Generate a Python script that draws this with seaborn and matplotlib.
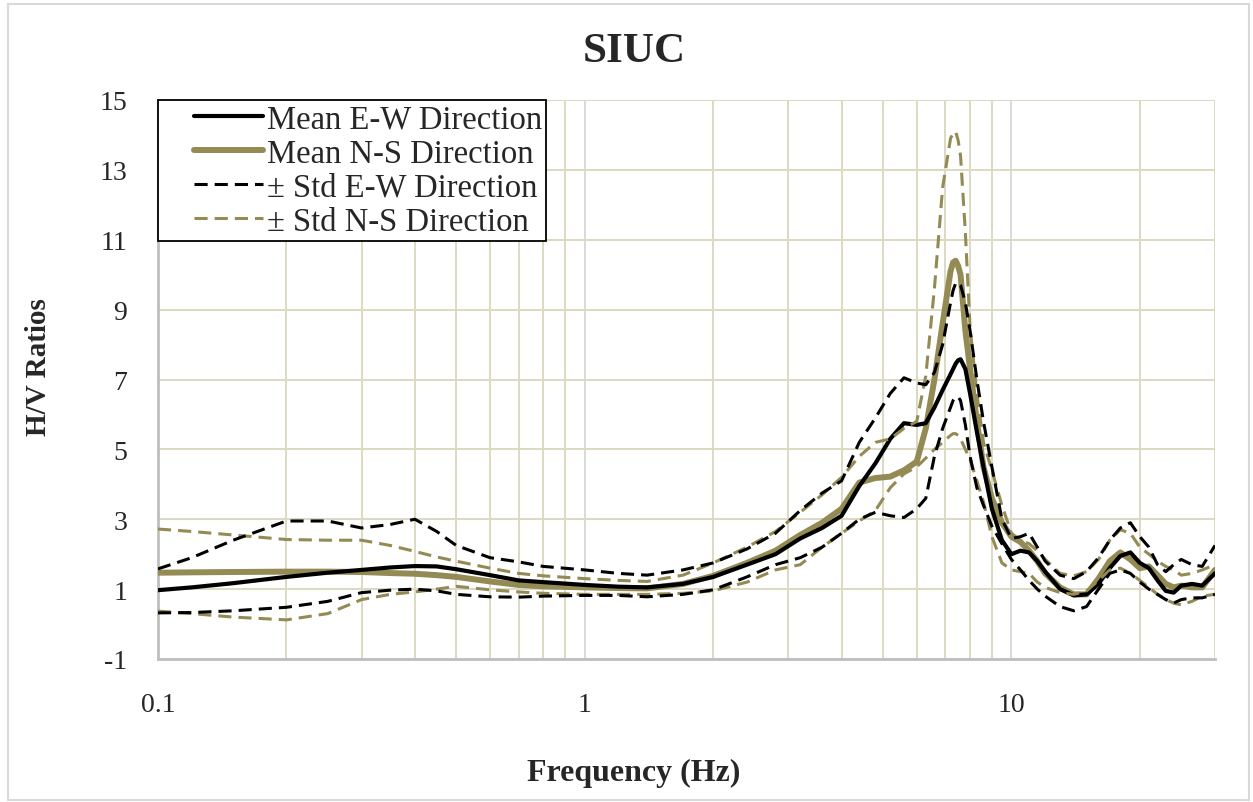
import numpy as np
import pandas as pd
import matplotlib
matplotlib.use("Agg")
import matplotlib.pyplot as plt
from matplotlib.ticker import FixedLocator, NullFormatter, LogLocator
from matplotlib.legend_handler import HandlerLine2D
from matplotlib.patches import Rectangle
import seaborn as sns

# Frequency samples (Hz)
freq = [0.1, 0.12, 0.15, 0.2, 0.25, 0.3, 0.35, 0.4, 0.45, 0.5, 0.6, 0.7, 0.8,
        1.0, 1.2, 1.4, 1.7, 2.0, 2.4, 2.8, 3.2, 3.6, 4.0, 4.4, 4.8, 5.2, 5.6,
        6.0, 6.3, 6.6, 6.9, 7.2, 7.3, 7.4, 7.5, 7.6, 7.8, 8.0, 8.3, 8.6, 9.0, 9.5, 10.0,
        10.5, 11.0, 11.5, 12.0, 13.0, 14.0, 15.0, 16.0, 17.0, 18.0, 19.0, 20.0,
        21.0, 22.0, 23.0, 24.0, 25.0, 26.5, 28.0, 30.0]

# H/V ratios
mean_ew = [0.97, 1.05, 1.17, 1.35, 1.47, 1.55, 1.62, 1.66, 1.65, 1.57, 1.40, 1.25, 1.20,
           1.12, 1.07, 1.05, 1.15, 1.35, 1.70, 2.00, 2.45, 2.75, 3.10, 3.95, 4.60, 5.30, 5.75,
           5.70, 5.75, 6.20, 6.70, 7.15, 7.30, 7.45, 7.55, 7.58, 7.30, 6.60, 5.50, 4.50, 3.30, 2.40, 2.00,
           2.10, 2.05, 1.80, 1.50, 1.00, 0.82, 0.85, 1.15, 1.60, 1.95, 2.05, 1.75,
           1.60, 1.25, 0.95, 0.90, 1.10, 1.15, 1.10, 1.45]

mean_ns = [1.47, 1.48, 1.49, 1.50, 1.50, 1.49, 1.46, 1.44, 1.40, 1.35, 1.22, 1.12, 1.08,
           1.05, 1.03, 1.02, 1.15, 1.38, 1.75, 2.10, 2.55, 2.90, 3.30, 4.05, 4.18, 4.22, 4.40,
           4.65, 5.60, 7.00, 8.60, 10.10, 10.35, 10.40, 10.25, 10.00, 8.40, 7.30, 5.80, 4.50, 3.60, 2.90, 2.50,
           2.35, 2.10, 1.80, 1.45, 1.05, 0.85, 0.85, 1.30, 1.80, 2.05, 1.85, 1.60,
           1.65, 1.40, 1.15, 1.05, 1.10, 1.05, 1.05, 1.55]

std_ew_hi = [1.58, 1.90, 2.40, 2.95, 2.95, 2.75, 2.85, 3.00, 2.65, 2.25, 1.90, 1.78, 1.65,
             1.55, 1.45, 1.40, 1.55, 1.75, 2.15, 2.60, 3.25, 3.75, 4.10, 5.20, 5.90, 6.60, 7.05,
             6.90, 6.85, 7.20, 8.00, 9.20, 9.55, 9.75, 9.78, 9.70, 9.20, 8.40, 7.00, 5.80, 4.50, 3.00, 2.45,
             2.50, 2.60, 2.20, 1.80, 1.40, 1.30, 1.50, 1.90, 2.40, 2.75, 2.90, 2.50,
             2.20, 1.70, 1.50, 1.70, 1.85, 1.70, 1.65, 2.25]

std_ew_lo = [0.32, 0.33, 0.38, 0.48, 0.65, 0.90, 0.97, 1.00, 0.95, 0.85, 0.78, 0.77, 0.80,
             0.82, 0.82, 0.78, 0.85, 0.98, 1.35, 1.70, 1.90, 2.20, 2.60, 3.00, 3.20, 3.10, 3.05,
             3.30, 3.60, 4.80, 5.60, 6.20, 6.40, 6.50, 6.50, 6.40, 5.70, 4.80, 3.90, 3.40, 2.80, 2.30, 1.85,
             1.55, 1.25, 1.00, 0.80, 0.50, 0.38, 0.50, 1.00, 1.45, 1.55, 1.45, 1.20,
             1.00, 0.85, 0.70, 0.60, 0.70, 0.75, 0.75, 0.85]

std_ns_hi = [2.72, 2.65, 2.55, 2.42, 2.40, 2.40, 2.25, 2.08, 1.92, 1.80, 1.60, 1.45, 1.38,
             1.30, 1.25, 1.22, 1.40, 1.75, 2.20, 2.65, 3.20, 3.70, 4.20, 4.80, 5.20, 5.30, 5.60,
             5.80, 7.10, 9.60, 12.50, 13.90, 14.05, 14.10, 13.85, 13.40, 11.20, 8.50, 6.60, 5.20, 4.40, 3.40, 2.60,
             2.40, 2.30, 2.10, 1.85, 1.45, 1.38, 1.50, 1.85, 2.40, 2.70, 2.60, 2.20,
             2.00, 1.80, 1.65, 1.55, 1.40, 1.45, 1.55, 1.70]

std_ns_lo = [0.37, 0.30, 0.20, 0.12, 0.30, 0.70, 0.85, 0.92, 1.00, 1.08, 0.98, 0.92, 0.88,
             0.85, 0.85, 0.85, 0.88, 0.95, 1.20, 1.55, 1.70, 2.20, 2.60, 2.95, 3.25, 3.90, 4.30,
             4.50, 4.75, 5.00, 5.20, 5.40, 5.45, 5.45, 5.40, 5.30, 5.00, 4.70, 4.10, 3.50, 2.50, 1.75, 1.55,
             1.50, 1.45, 1.20, 1.05, 0.90, 0.85, 0.95, 1.25, 1.55, 1.60, 1.45, 1.25,
             1.05, 0.85, 0.70, 0.60, 0.55, 0.65, 0.80, 0.85]

x_ticks = [0.1, 1, 10]
x_tick_labels = ["0.1", "1", "10"]
y_ticks = list(range(-1, 16, 2))

BLACK = "#000000"
TAN = "#948A54"
GRID_TAN = "#DDD9C3"
GRID_GRAY = "#D9D9D9"

sns.set_style("white")
plt.rcParams["font.family"] = ["Liberation Serif", "DejaVu Serif"]
plt.rcParams["axes.unicode_minus"] = False

fig = plt.figure(figsize=(12.53, 8.03), dpi=100)
ax = fig.add_axes([158 / 1253, 1 - 660 / 803, (1215 - 158) / 1253, (660 - 101) / 803])

dash = (0, (4.3, 2.3))
series = [
    ("Mean E-W Direction", mean_ew, BLACK, 3.0, "-", 4),
    ("Mean N-S Direction", mean_ns, TAN, 4.3, "-", 3),
    ("\u00b1 Std E-W Direction", std_ew_hi, BLACK, 2.2, dash, 6),
    ("\u00b1 Std N-S Direction", std_ns_hi, TAN, 2.2, dash, 5),
]
for label, vals, color, lw, ls, z in series:
    sns.lineplot(x=freq, y=vals, ax=ax, color=color, lw=lw, linestyle=ls,
                 label=label, errorbar=None, zorder=z)
for vals, color, z in [(std_ew_lo, BLACK, 6), (std_ns_lo, TAN, 5)]:
    sns.lineplot(x=freq, y=vals, ax=ax, color=color, lw=2.2, linestyle=dash,
                 errorbar=None, zorder=z, legend=False)

ax.set_xscale("log")
ax.set_xlim(0.1, 30)
ax.set_ylim(-1, 15)
ax.xaxis.set_major_locator(FixedLocator(x_ticks))
ax.set_xticklabels(x_tick_labels)
ax.xaxis.set_minor_locator(LogLocator(base=10, subs=np.arange(2, 10)))
ax.xaxis.set_minor_formatter(NullFormatter())
ax.set_yticks(y_ticks)

ax.grid(which="major", axis="x", color=GRID_GRAY, lw=1.4, zorder=0)
ax.grid(which="minor", axis="x", color=GRID_TAN, lw=1.4, zorder=0)
ax.grid(which="major", axis="y", color=GRID_TAN, lw=1.4, zorder=0)
ax.set_axisbelow(True)

for side in ["top", "right"]:
    ax.spines[side].set_visible(False)
for side in ["left", "bottom"]:
    ax.spines[side].set_color("#BFBFBF")
    ax.spines[side].set_linewidth(2.0)

ax.tick_params(axis="both", which="both", length=0, labelsize=20)
ax.tick_params(axis="y", pad=22)
ax.tick_params(axis="x", pad=24)

ax.set_ylabel("H/V Ratios", fontsize=21, fontweight="bold")
ax.yaxis.set_label_coords(-0.1, 0.524)
fig.text(634 / 1253, 1 - 773 / 803, "Frequency (Hz)", fontsize=23,
         fontweight="bold", ha="center", va="center")
fig.text(634 / 1253, 1 - 52 / 803, "SIUC", fontsize=31,
         fontweight="bold", ha="center", va="center")


class OffsetLineHandler(HandlerLine2D):
    """Draw the legend line only over the right part of the handle box."""
    def __init__(self, frac=0.68, **kw):
        super().__init__(**kw)
        self.frac = frac

    def get_xdata(self, legend, xdescent, ydescent, width, height, fontsize):
        x0 = -xdescent + width * (1 - self.frac)
        x1 = -xdescent + width
        return np.array([x0, x1]), np.array([(x0 + x1) / 2])


handles, labels = ax.get_legend_handles_labels()
leg = ax.legend(handles, labels, loc="upper left", bbox_to_anchor=(0, 1),
                borderaxespad=0, fontsize=23.5, frameon=True, fancybox=False,
                edgecolor="#000000", framealpha=1, borderpad=0.12,
                labelspacing=0.11, handlelength=3.1, handletextpad=0.12,
                handler_map={h: OffsetLineHandler() for h in handles})
leg.get_frame().set_linewidth(1.3)
leg.set_zorder(10)

# chart border
fig.patches.append(Rectangle((8 / 1253, 0.002), 1 - 12 / 1253, 1 - 7 / 803,
                             transform=fig.transFigure, fill=False,
                             edgecolor="#D9D9D9", lw=1.5))

fig.savefig("out.png", dpi=100)
